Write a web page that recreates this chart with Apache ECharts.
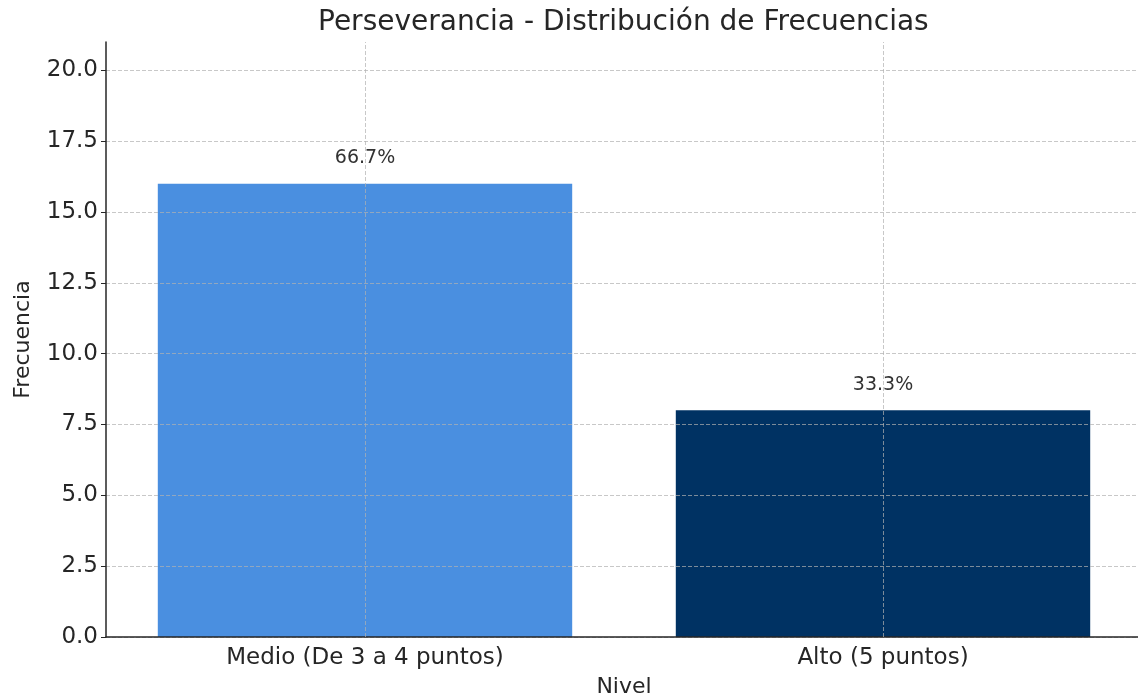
<!DOCTYPE html>
<html>
<head>
<meta charset="utf-8">
<script src="https://cdn.jsdelivr.net/npm/echarts@6/dist/echarts.min.js"></script>
<style>html,body{margin:0;padding:0;background:#fff}#c{width:1138px;height:700px}</style>
</head>
<body>
<div id="c"></div>
<script>
const categories = ['Medio (De 3 a 4 puntos)', 'Alto (5 puntos)'];
const frequencies = [16, 8];
const percentLabels = ['66.7%', '33.3%'];
const barColors = ['#4a8fe0', '#003263'];

const FONT = 'DejaVu Sans';
const TXT = '#262626';
const gridLine = { color: 'rgba(176,176,176,0.7)', width: 1, type: [4, 2] };

const chart = echarts.init(document.getElementById('c'), null, { renderer: 'canvas' });
chart.setOption({
  animation: false,
  backgroundColor: '#ffffff',
  title: {
    text: 'Perseverancia - Distribución de Frecuencias',
    left: 313, top: 4,
    textStyle: { fontFamily: FONT, fontSize: 28, fontWeight: 'normal', color: TXT }
  },
  grid: { left: 106, top: 42, width: 1036, bottom: 63, containLabel: false, outerBoundsMode: 'none' },
  xAxis: {
    type: 'category',
    data: categories,
    z: 3,
    name: 'Nivel',
    nameLocation: 'middle',
    nameGap: 39,
    nameTextStyle: { fontFamily: FONT, fontSize: 22, color: TXT },
    axisLine: { lineStyle: { color: '#262626', width: 1.5 } },
    axisTick: { alignWithLabel: true, length: 5, lineStyle: { color: '#262626' } },
    axisLabel: { fontFamily: FONT, fontSize: 23, color: TXT, margin: 10 },
    splitLine: { show: false }
  },
  yAxis: {
    type: 'value',
    min: 0, max: 21, interval: 2.5,
    z: 3,
    name: 'Frecuencia',
    nameLocation: 'middle',
    nameRotate: 90,
    nameGap: 72,
    nameTextStyle: { fontFamily: FONT, fontSize: 22, color: TXT },
    axisLine: { show: true, lineStyle: { color: '#262626', width: 1.5 } },
    axisTick: { show: true, length: 5, lineStyle: { color: '#262626' } },
    axisLabel: {
      fontFamily: FONT, fontSize: 23, color: TXT, margin: 8,
      showMaxLabel: false,
      formatter: v => (v > 20 ? '' : v.toFixed(1))
    },
    splitLine: { show: true, showMaxLine: false, lineStyle: gridLine }
  },
  series: [{
    type: 'bar',
    barWidth: '80%',
    data: frequencies.map((v, i) => ({ value: v, itemStyle: { color: barColors[i] } })),
    label: {
      show: true, position: 'top', distance: 16,
      fontFamily: FONT, fontSize: 19, color: '#333333',
      formatter: p => percentLabels[p.dataIndex]
    },
    markLine: {
      silent: true, symbol: 'none', z: 4,
      label: { show: false },
      lineStyle: gridLine,
      data: categories.map(c => ({ xAxis: c }))
    }
  }]
});
</script>
</body>
</html>
